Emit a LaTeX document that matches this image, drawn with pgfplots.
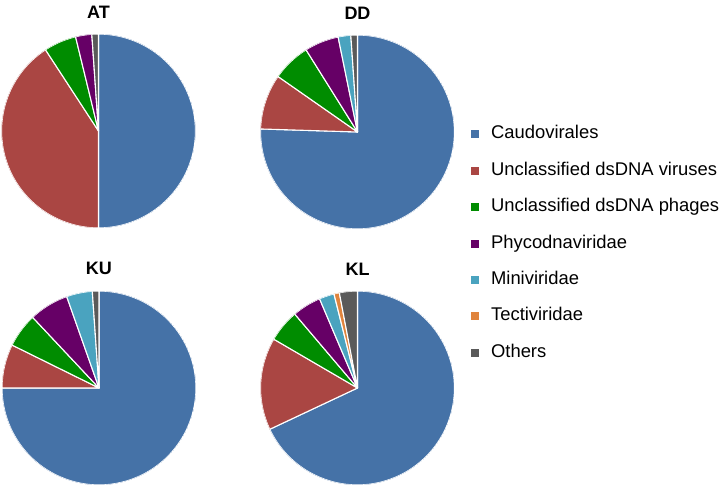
\documentclass[border=0pt]{standalone}
\usepackage{fontspec}
\setmainfont{Liberation Sans}
\usepackage{pgfplots}
\pgfplotsset{compat=1.18}
\usepgfplotslibrary{polar}
\definecolor{cBlue}{HTML}{4572A7}
\definecolor{cRed}{HTML}{AA4643}
\definecolor{cGreen}{HTML}{008C00}
\definecolor{cPurple}{HTML}{660066}
\definecolor{cCyan}{HTML}{4AA3BF}
\definecolor{cOrange}{HTML}{E0843D}
\definecolor{cGrey}{HTML}{5A5A5A}
% running total of the percentages of the current pie
\newcommand\startpie{\gdef\cum{0}}
\newcommand\slice[2]{%
  \pgfmathsetmacro\sa{90-3.6*\cum}%
  \pgfmathsetmacro\sb{90-3.6*(\cum+#2)}%
  \edef\temp{\noexpand\addplot[fill=#1, draw=white, line width=1.1pt, line join=round, domain=\sa:\sb, samples=90] {1} -- (axis cs:0,0) -- cycle;}%
  \temp
  \pgfmathsetmacro\newcum{\cum+#2}\global\let\cum\newcum}
\pgfplotsset{
  piestyle/.style={hide axis, scale only axis, width=194pt, height=194pt,
    ymin=0, ymax=1, anchor=origin,
    title style={font=\fontsize{18}{20}\selectfont\bfseries, yshift=-2pt}},
}
\begin{document}
\begin{tikzpicture}[x=1pt,y=1pt]
\useasboundingbox (0,0) rectangle (721,491);
% AT
\begin{polaraxis}[piestyle, at={(98.5pt,360pt)}, title={AT}]
\startpie
\slice{cBlue}{50.0}
\slice{cRed}{40.8}
\slice{cGreen}{5.4}
\slice{cPurple}{2.7}
\slice{cGrey}{1.1}
\end{polaraxis}
% DD
\begin{polaraxis}[piestyle, at={(357.5pt,359pt)}, title={DD}]
\startpie
\slice{cBlue}{75.5}
\slice{cRed}{9.2}
\slice{cGreen}{6.4}
\slice{cPurple}{5.7}
\slice{cCyan}{2.1}
\slice{cGrey}{1.1}
\end{polaraxis}
% KU
\begin{polaraxis}[piestyle, at={(99pt,103pt)}, title={KU}]
\startpie
\slice{cBlue}{75.0}
\slice{cRed}{7.3}
\slice{cGreen}{5.7}
\slice{cPurple}{6.6}
\slice{cCyan}{4.3}
\slice{cGrey}{1.1}
\end{polaraxis}
% KL
\begin{polaraxis}[piestyle, at={(357.5pt,103pt)}, title={KL}]
\startpie
\slice{cBlue}{68.0}
\slice{cRed}{15.4}
\slice{cGreen}{5.4}
\slice{cPurple}{4.8}
\slice{cCyan}{2.5}
\slice{cOrange}{0.9}
\slice{cGrey}{3.0}
\end{polaraxis}
% legend
\begin{axis}[hide axis, scale only axis, width=10pt, height=10pt,
  xmin=0, xmax=1, ymin=0, ymax=1,
  at={(471pt,365.3pt)}, anchor=north west,
  legend image code/.code={\fill[#1, draw=none] (0pt,-4pt) rectangle (8pt,4pt); \path (0pt,0pt) (19.5pt,0pt);},
  legend style={at={(0,1)}, anchor=north west, draw=none, fill=none,
    font=\fontsize{18.4}{20}\selectfont, row sep=19.4pt, inner sep=0pt,
    nodes={inner sep=0pt, text height=13pt, text depth=4pt}},
  legend cell align=left]
\addlegendimage{fill=cBlue}\addlegendentry{Caudovirales}
\addlegendimage{fill=cRed}\addlegendentry{Unclassified dsDNA viruses}
\addlegendimage{fill=cGreen}\addlegendentry{Unclassified dsDNA phages}
\addlegendimage{fill=cPurple}\addlegendentry{Phycodnaviridae}
\addlegendimage{fill=cCyan}\addlegendentry{Miniviridae}
\addlegendimage{fill=cOrange}\addlegendentry{Tectiviridae}
\addlegendimage{fill=cGrey}\addlegendentry{Others}
\end{axis}
\end{tikzpicture}
\end{document}
